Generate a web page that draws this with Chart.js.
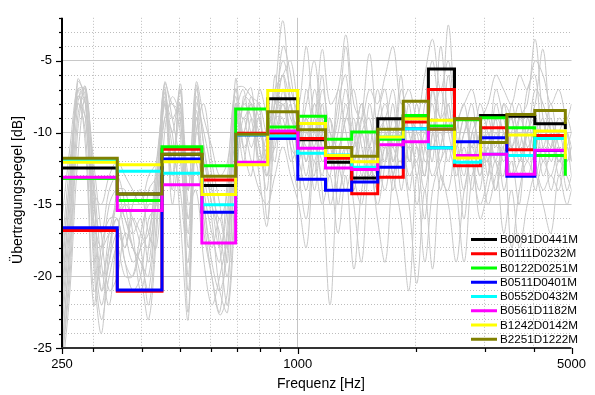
<!DOCTYPE html>
<html>
<head>
<meta charset="utf-8">
<script src="https://cdn.jsdelivr.net/npm/chart.js@4.4.0/dist/chart.umd.min.js"></script>
<style>
  html, body { margin: 0; padding: 0; background: #fff; }
  #c { display: block; }
</style>
</head>
<body>
<canvas id="c" width="595" height="395"></canvas>
<script>
// step positions [Hz] of the band levels (last entry = end of the last band)
var bandEdges = [250, 346, 450, 569, 694, 838, 1000, 1177, 1373, 1600, 1859, 2155, 2513, 2929, 3418, 4029, 4821];

// band levels [dB], one value per step position
var sB0091D0441M = [-12.46, -14.27, -11.5, -13.68, -10.15, -7.64, -10.5, -12.07, -13.15, -9.04, -8.85, -5.57, -9.05, -8.81, -8.85, -9.38, -9.77];
var sB0111D0232M = [-16.82, -21.05, -11.15, -13.29, -10.05, -10.05, -10.4, -11.79, -14.25, -13.1, -9.26, -6.99, -12.3, -9.66, -11.19, -10.19, -10.19];
var sB0122D0251M = [-13.2, -14.73, -10.99, -12.3, -8.35, -9.61, -8.85, -10.46, -9.95, -10.46, -8.81, -9.54, -9.1, -8.97, -9.66, -11.6, -13.0];
var sB0511D0401M = [-16.62, -20.96, -11.84, -15.54, -10.15, -10.41, -13.25, -14.02, -13.43, -12.41, -9.72, -11.05, -10.64, -10.35, -13.03, -11.25, -11.25];
var sB0552D0432M = [-11.9, -12.69, -12.83, -15.03, -10.15, -10.23, -11.43, -11.55, -12.41, -10.3, -9.72, -11.05, -12.07, -11.5, -11.6, -10.41, -10.41];
var sB0561D1182M = [-13.1, -15.42, -13.63, -17.68, -12.07, -9.88, -11.08, -12.46, -12.57, -10.85, -10.64, -9.77, -11.6, -11.5, -12.9, -11.22, -11.22];
var sB1242D0142M = [-12.07, -12.23, -12.02, -14.3, -12.23, -7.06, -9.36, -11.6, -12.02, -10.3, -9.04, -9.13, -11.77, -10.69, -10.16, -9.88, -11.84];
var sB2251D1222M = [-11.79, -14.27, -11.5, -13.03, -10.12, -8.55, -9.79, -11.03, -11.65, -9.77, -7.82, -9.77, -9.04, -10.69, -8.74, -8.46, -9.4];

var seriesNames = ['B0091D0441M', 'B0111D0232M', 'B0122D0251M', 'B0511D0401M', 'B0552D0432M', 'B0561D1182M', 'B1242D0142M', 'B2251D1222M'];
var seriesColors = ['#000000', '#ff0000', '#00ff00', '#0000ff', '#00ffff', '#ff00ff', '#ffff00', '#808000'];

// frequencies of the grey single measurements
var grayFreq = [250, 262, 274, 287, 301, 315, 330, 346, 362, 379, 397,
  416, 436, 457, 478, 501, 525, 550, 576, 603, 632,
  662, 693, 726, 761, 797, 835, 874, 916, 959, 1005,
  1052, 1102, 1154, 1209, 1267, 1327, 1390, 1456, 1525, 1597,
  1673, 1752, 1835, 1923, 2014, 2109, 2209, 2314, 2424, 2539,
  2660, 2786, 2918, 3057, 3202, 3354, 3513, 3680, 3854, 4037,
  4229, 4429, 4640, 4860, 5000];

var gray1 = [-25.5, -17, -6.5, -7.5, -16, -21, -17, -15, -17, -19, -18,
  -14, -13, -6.8, -12, -8, -18, -9, -14, -17, -19,
  -13, -7, -10, -7.5, -11, -13, -7.5, -2.2, -8, -11,
  -7, -10, -6, -11, -9, -4, -10, -12, -8, -11,
  -9, -13, -7, -10, -12, -8, -5, -9, -2.5, -10,
  -13, -9, -11, -12, -9, -10, -13, -9, -8, -3.5,
  -9, -11, -10, -12, -11];
var gray2 = [-21, -14, -7.5, -8, -19, -24, -18, -16, -19, -21, -20,
  -16, -15, -7, -14, -6.6, -13, -12, -17, -20, -22.5,
  -16, -9, -7, -10, -8, -16, -10, -6, -11, -14,
  -10, -12, -9, -15, -12, -8, -13, -15, -11, -13,
  -10, -12, -9, -14, -11, -13, -9, -12, -8, -13,
  -11, -14, -10, -12, -14, -11, -9, -12, -10, -9,
  -12, -10, -13, -11, -12];
var gray3 = [-18, -12, -8, -10, -21, -19, -15, -14, -16, -17, -16,
  -19, -13, -9, -8, -10, -22.5, -6.8, -11, -15, -17,
  -20, -12, -8, -6.9, -12, -10, -8, -5, -7, -9,
  -12, -8, -11, -13, -7, -10, -12, -9, -4.5, -10,
  -12, -9, -11, -8, -13, -10, -12, -4, -9, -11,
  -9, -12, -14, -9, -11, -8, -11, -13, -10, -8,
  -4.2, -10, -12, -10, -11];
var gray4 = [-26, -20, -10, -6.8, -13, -19, -22, -17, -15, -16, -18,
  -22, -16, -8, -11, -14, -19, -8, -10, -13, -18,
  -22, -14, -9, -11, -9, -12, -11, -8, -10, -13,
  -16, -11, -14, -22, -13, -11, -15, -19, -12, -14,
  -11, -13, -16, -21, -13, -19, -14, -12, -11, -14,
  -19, -13, -12, -15, -13, -11, -18, -14, -12, -13,
  -11, -14, -12, -13, -14];
var gray5 = [-23, -15, -6.3, -8, -15, -17, -14, -13, -15, -18, -19,
  -21, -14, -6.5, -9, -12, -16, -11, -15, -18, -16,
  -19, -6.3, -11, -13, -7, -9, -12, -7, -9, -10,
  -8, -5, -9, -10, -11, -9, -7, -11, -13, -10,
  -8, -11, -12, -9, -11, -14, -10, -7, -10, -12,
  -10, -8, -12, -11, -7, -9, -11, -10, -12, -9,
  -10, -8, -11, -12, -11];
var gray6 = [-20, -13, -7.5, -9, -18, -23, -20, -18, -20, -20, -17,
  -15, -15, -7.5, -13, -7, -15, -14, -19, -22, -20,
  -17, -10, -8, -9, -13, -16.5, -9, -9, -12, -11,
  -13, -9, -12, -11, -14, -12, -9, -13, -10, -12,
  -14, -10, -9, -12, -10, -11, -13, -11, -9, -11,
  -14, -10, -9, -13, -10, -12, -10, -8, -11, -10,
  -13, -11, -9, -10, -12];
var gray7 = [-16, -11, -7, -11, -22, -18, -16, -16, -18, -15, -14,
  -17, -18, -10, -7.5, -9, -17, -7.5, -13, -16, -21,
  -22.5, -15, -7.5, -8, -10, -11, -9, -4, -6, -10,
  -11, -13, -8, -12, -10, -7, -11, -10, -13, -9,
  -7, -12, -10, -11, -8, -12, -11, -10, -12, -9,
  -12, -11, -13, -10, -12, -13, -8, -11, -13, -11,
  -9, -12, -10, -9, -10];
var gray8 = [-25, -18, -8, -6.8, -14, -21, -19, -14, -14, -17, -21,
  -18, -12, -8, -15, -11, -21, -10, -8, -12, -15,
  -18, -8, -12, -9, -11, -14, -6, -10, -8, -12,
  -9, -14, -10, -9, -12, -14, -11, -8, -11, -15,
  -12, -8, -14, -11, -15, -11, -8, -13, -14, -10,
  -8, -12, -15, -13, -9, -14, -12, -15, -9, -12,
  -14, -13, -14, -11, -13];
var gray9 = [-27, -21, -12, -7.5, -12, -17, -21, -20, -17, -18, -20,
  -23, -17, -9, -10, -16, -23, -9, -16, -20, -22.7,
  -21, -11, -10, -12, -14, -15, -13, -11, -13, -15,
  -18, -12, -15, -13, -17, -13, -19.5, -14, -12, -16,
  -19, -13, -12, -15, -20.5, -14, -19.5, -13, -15, -19,
  -14, -12, -16, -14, -12, -17, -14, -18, -15, -13,
  -15, -17, -13, -15, -14];
var gray10 = [-22, -14, -7, -8, -14, -15, -13, -12, -13, -14, -15,
  -13, -12, -6.6, -8, -8.5, -14, -6.5, -9, -11, -13,
  -12, -7, -6.8, -7.5, -8, -10, -7, -6, -5, -8,
  -4, -9, -4.2, -8, -7, -3.2, -8, -9, -7, -8,
  -6, -4, -8, -7, -9, -6, -3.5, -7, -5, -9,
  -8, -7, -9, -8, -6, -7, -8, -6, -7, -5,
  -6, -8, -7, -9, -8];
var gray11 = [-24, -16, -7, -7, -14, -20, -18, -15, -16, -18, -19,
  -20, -14, -7.2, -10, -7, -16, -10, -12, -15, -18,
  -15, -8, -9, -8, -9, -12, -8, -7, -10, -9,
  -12, -7, -10, -12, -8, -6, -12, -9, -11, -7,
  -10, -11, -6, -12, -9, -10, -7, -11, -6, -11,
  -9, -11, -8, -10, -12, -8, -9, -11, -7, -6,
  -11, -9, -12, -10, -12];
var gray12 = [-19, -13, -8, -9, -17, -22, -19, -17, -18, -16, -17,
  -18, -14, -8, -12, -9, -20, -8.5, -15, -19, -21,
  -18, -9, -10, -8, -12, -11, -10, -8, -11, -12,
  -14, -10, -13, -9, -15, -11, -14, -10, -9, -13,
  -11, -14, -10, -13, -12, -16, -10, -14, -11, -12,
  -16, -10, -13, -11, -14, -10, -13, -12, -10, -14,
  -12, -13, -11, -14, -13];
var gray13 = [-26, -19, -9, -7, -16, -18, -17, -16, -19, -20, -18,
  -17, -13, -7.8, -9, -8, -14, -7, -11, -14, -16,
  -14, -7.5, -11, -10, -9, -13, -9, -6, -8, -10,
  -9, -11, -7, -10, -12, -9, -10, -8, -12, -10,
  -9, -7, -11, -9, -10, -13, -7, -9, -8, -12,
  -10, -9, -11, -12, -8, -10, -11, -9, -10, -7,
  -8, -10, -12, -11, -10];

var xTicks = [250, 300, 400, 500, 600, 700, 800, 900, 1000, 2000, 3000, 4000, 5000];
var xLabels = [250, 1000, 5000];

var FONT = '"Liberation Sans", Arial, sans-serif';

var datasets = [];
[gray1, gray2, gray3, gray4, gray5, gray6, gray7, gray8, gray9, gray10, gray11, gray12, gray13].forEach(function (g) {
  datasets.push({
    data: g.map(function (v, i) { return { x: grayFreq[i], y: v }; }),
    borderColor: '#c8c8c8',
    borderWidth: 1,
    pointRadius: 0,
    tension: 0.35,
    fill: false,
    order: 20
  });
});
[sB0091D0441M, sB0111D0232M, sB0122D0251M, sB0511D0401M, sB0552D0432M, sB0561D1182M, sB1242D0142M, sB2251D1222M].forEach(function (vals, k) {
  datasets.push({
    label: seriesNames[k],
    data: vals.map(function (v, i) { return { x: bandEdges[i], y: v }; }),
    borderColor: seriesColors[k],
    borderWidth: 3,
    borderJoinStyle: 'miter',
    pointRadius: 0,
    stepped: true,
    fill: false,
    order: 8 - k,
    isSeries: true
  });
});

// axis lines, tick marks, titles and the legend inside the plot
var frame = {
  id: 'frame',
  afterDraw: function (chart) {
    var ctx = chart.ctx, a = chart.chartArea, xs = chart.scales.x, ys = chart.scales.y;
    ctx.save();
    ctx.lineWidth = 2;
    ctx.strokeStyle = '#000';
    ctx.beginPath(); ctx.moveTo(a.left, a.top); ctx.lineTo(a.left, a.bottom + 1); ctx.stroke();
    ctx.strokeStyle = '#333';
    ctx.beginPath(); ctx.moveTo(a.left - 1, a.bottom); ctx.lineTo(a.right, a.bottom); ctx.stroke();

    ctx.lineWidth = 1.2;
    ctx.strokeStyle = '#000';
    for (var v = -25; v <= -2; v++) {
      var py = Math.round(ys.getPixelForValue(v)) + 0.5;
      var len = v % 5 === 0 ? 6 : 3;
      ctx.beginPath(); ctx.moveTo(a.left - len, py); ctx.lineTo(a.left, py); ctx.stroke();
    }
    xTicks.forEach(function (f) {
      var px = Math.round(xs.getPixelForValue(f)) + 0.5;
      var l = xLabels.indexOf(f) >= 0 ? 6 : 4;
      ctx.beginPath(); ctx.moveTo(px, a.bottom); ctx.lineTo(px, a.bottom + l); ctx.stroke();
    });

    ctx.fillStyle = '#000';
    ctx.font = '14px ' + FONT;
    ctx.textAlign = 'center';
    ctx.textBaseline = 'middle';
    ctx.fillText('Frequenz [Hz]', 321, 384);
    ctx.save();
    ctx.translate(18, 190);
    ctx.rotate(-Math.PI / 2);
    ctx.fillText('\u00dcbertragungspegel [dB]', 0, 0);
    ctx.restore();

    ctx.font = '11.7px ' + FONT;
    ctx.textAlign = 'left';
    var y0 = 239.5;
    chart.data.datasets.filter(function (d) { return d.isSeries; }).forEach(function (d, i) {
      var y = y0 + i * 14.25;
      ctx.strokeStyle = d.borderColor;
      ctx.lineWidth = 3;
      ctx.beginPath(); ctx.moveTo(471, y); ctx.lineTo(497, y); ctx.stroke();
      ctx.fillText(d.label, 500, y + 0.5);
    });
    ctx.restore();
  }
};

new Chart(document.getElementById('c').getContext('2d'), {
  type: 'line',
  data: { datasets: datasets },
  options: {
    responsive: false,
    animation: false,
    events: [],
    devicePixelRatio: 1,
    layout: { padding: { top: 14, right: 16, left: 0, bottom: 0 } },
    plugins: { legend: { display: false }, tooltip: { enabled: false } },
    scales: {
      x: {
        type: 'logarithmic',
        min: 250,
        max: 5000,
        afterBuildTicks: function (scale) {
          scale.ticks = xTicks.map(function (v) { return { value: v }; });
        },
        afterFit: function (scale) { scale.height = 47; },
        ticks: {
          autoSkip: false,
          maxRotation: 0,
          minRotation: 0,
          padding: 9,
          color: '#000',
          font: { family: FONT, size: 13 },
          callback: function (v) { return xLabels.indexOf(v) >= 0 ? String(v) : ''; }
        },
        grid: {
          drawTicks: false,
          lineWidth: 1,
          color: function (c) {
            var v = c.tick ? c.tick.value : 0;
            if (v === 250 || v === 5000) return 'rgba(0,0,0,0)';
            return v === 1000 ? '#c4c4c4' : '#bdbdbd';
          }
        },
        border: {
          display: false,
          dash: function (c) { return (c.type === 'tick' && c.tick.value !== 1000) ? [1, 2] : []; }
        }
      },
      y: {
        type: 'linear',
        min: -25,
        max: -2,
        afterFit: function (scale) { scale.width = 62; },
        ticks: {
          stepSize: 1,
          autoSkip: false,
          padding: 10,
          color: '#000',
          font: { family: FONT, size: 13 },
          callback: function (v) { return v % 5 === 0 ? String(v) : ''; }
        },
        grid: {
          drawTicks: false,
          lineWidth: 1,
          color: function (c) {
            var v = c.tick ? c.tick.value : 0;
            if (v === -25 || v === -2) return 'rgba(0,0,0,0)';
            return v % 5 === 0 ? '#c8c8c8' : '#bdbdbd';
          }
        },
        border: {
          display: false,
          dash: function (c) { return (c.type === 'tick' && c.tick.value % 5 !== 0) ? [1, 2] : []; }
        }
      }
    }
  },
  plugins: [frame]
});
</script>
</body>
</html>
